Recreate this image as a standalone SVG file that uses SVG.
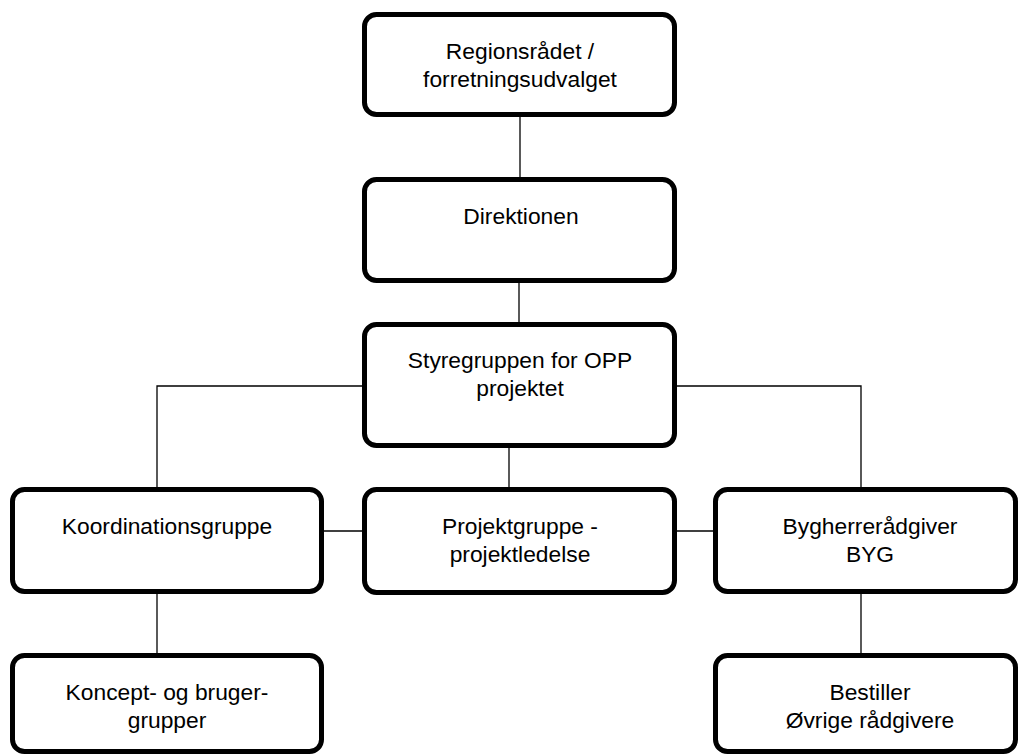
<svg xmlns="http://www.w3.org/2000/svg" width="1020" height="756" viewBox="0 0 1020 756">
<style>
.box{fill:#fff;stroke:#000;stroke-width:5}
.lbl{font-family:"Liberation Sans",Arial,sans-serif;font-size:22.8px;fill:#000;text-anchor:middle}
.con{stroke:#000;stroke-width:1.3;fill:none}
</style>
<rect width="1020" height="756" fill="#fff"/>
<g id="connectors">
<line class="con" x1="520" y1="117" x2="520" y2="177"/>
<line class="con" x1="519" y1="283" x2="519" y2="322"/>
<line class="con" x1="509" y1="448" x2="509" y2="487"/>
<polyline class="con" points="157,487 157,386 362,386"/>
<polyline class="con" points="677,386 861,386 861,487"/>
<line class="con" x1="324" y1="531" x2="362" y2="531"/>
<line class="con" x1="677" y1="531" x2="713" y2="531"/>
<line class="con" x1="157" y1="594" x2="157" y2="653"/>
<line class="con" x1="861" y1="594" x2="861" y2="653"/>
</g>
<g id="regionsraadet">
<rect class="box" x="364.5" y="14.5" width="310" height="100" rx="12"/>
<text class="lbl" x="520" y="59">Regionsrådet /</text>
<text class="lbl" x="520" y="87">forretningsudvalget</text>
</g>
<g id="direktionen">
<rect class="box" x="364.5" y="179.5" width="310" height="101" rx="12"/>
<text class="lbl" x="521" y="224">Direktionen</text>
</g>
<g id="styregruppen">
<rect class="box" x="364.5" y="324.5" width="310" height="121" rx="12"/>
<text class="lbl" x="520" y="368">Styregruppen for OPP</text>
<text class="lbl" x="520" y="396">projektet</text>
</g>
<g id="koordinationsgruppe">
<rect class="box" x="12.5" y="489.5" width="309" height="102" rx="12"/>
<text class="lbl" x="167" y="534">Koordinationsgruppe</text>
</g>
<g id="projektgruppe">
<rect class="box" x="364.5" y="489.5" width="310" height="103" rx="12"/>
<text class="lbl" x="520" y="534">Projektgruppe -</text>
<text class="lbl" x="520" y="562">projektledelse</text>
</g>
<g id="bygherreraadgiver">
<rect class="box" x="715.5" y="489.5" width="300" height="102" rx="12"/>
<text class="lbl" x="870" y="534">Bygherrerådgiver</text>
<text class="lbl" x="870" y="562">BYG</text>
</g>
<g id="koncept">
<rect class="box" x="12.5" y="655.5" width="309" height="96" rx="12"/>
<text class="lbl" x="167" y="700">Koncept- og bruger-</text>
<text class="lbl" x="167" y="728">grupper</text>
</g>
<g id="bestiller">
<rect class="box" x="715.5" y="655.5" width="300" height="96" rx="12"/>
<text class="lbl" x="870" y="700">Bestiller</text>
<text class="lbl" x="870" y="728">Øvrige rådgivere</text>
</g>
</svg>
